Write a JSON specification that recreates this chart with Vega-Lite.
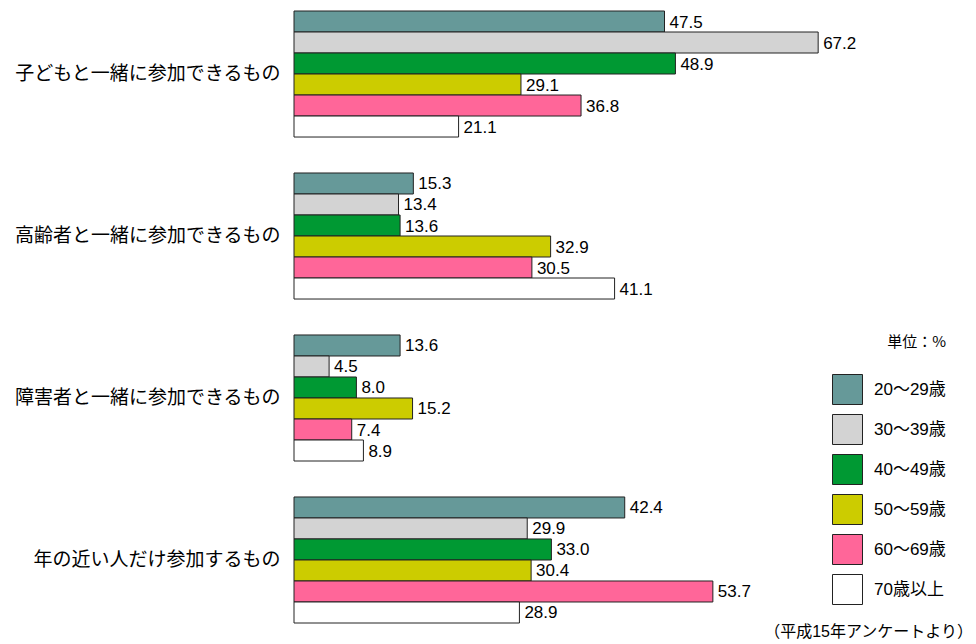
{
  "$schema": "https://vega.github.io/schema/vega-lite/v6.json",
  "width": 624,
  "height": 612,
  "autosize": {"type": "none"},
  "padding": {"left": 294, "top": 11, "right": 58, "bottom": 21},
  "background": "white",
  "config": {"view": {"stroke": null}},
  "title": {
    "text": "（平成15年アンケートより）",
    "orient": "bottom",
    "anchor": "end",
    "fontSize": 16,
    "fontWeight": "normal",
    "font": "Liberation Sans, Noto Sans CJK JP",
    "color": "#000",
    "offset": 0,
    "dx": 27
  },
  "data": {
    "values": [
      {"item": "子どもと一緒に参加できるもの", "age": "20～29歳", "value": 47.5},
      {"item": "子どもと一緒に参加できるもの", "age": "30～39歳", "value": 67.2},
      {"item": "子どもと一緒に参加できるもの", "age": "40～49歳", "value": 48.9},
      {"item": "子どもと一緒に参加できるもの", "age": "50～59歳", "value": 29.1},
      {"item": "子どもと一緒に参加できるもの", "age": "60～69歳", "value": 36.8},
      {"item": "子どもと一緒に参加できるもの", "age": "70歳以上", "value": 21.1},
      {"item": "高齢者と一緒に参加できるもの", "age": "20～29歳", "value": 15.3},
      {"item": "高齢者と一緒に参加できるもの", "age": "30～39歳", "value": 13.4},
      {"item": "高齢者と一緒に参加できるもの", "age": "40～49歳", "value": 13.6},
      {"item": "高齢者と一緒に参加できるもの", "age": "50～59歳", "value": 32.9},
      {"item": "高齢者と一緒に参加できるもの", "age": "60～69歳", "value": 30.5},
      {"item": "高齢者と一緒に参加できるもの", "age": "70歳以上", "value": 41.1},
      {"item": "障害者と一緒に参加できるもの", "age": "20～29歳", "value": 13.6},
      {"item": "障害者と一緒に参加できるもの", "age": "30～39歳", "value": 4.5},
      {"item": "障害者と一緒に参加できるもの", "age": "40～49歳", "value": 8.0},
      {"item": "障害者と一緒に参加できるもの", "age": "50～59歳", "value": 15.2},
      {"item": "障害者と一緒に参加できるもの", "age": "60～69歳", "value": 7.4},
      {"item": "障害者と一緒に参加できるもの", "age": "70歳以上", "value": 8.9},
      {"item": "年の近い人だけ参加するもの", "age": "20～29歳", "value": 42.4},
      {"item": "年の近い人だけ参加するもの", "age": "30～39歳", "value": 29.9},
      {"item": "年の近い人だけ参加するもの", "age": "40～49歳", "value": 33.0},
      {"item": "年の近い人だけ参加するもの", "age": "50～59歳", "value": 30.4},
      {"item": "年の近い人だけ参加するもの", "age": "60～69歳", "value": 53.7},
      {"item": "年の近い人だけ参加するもの", "age": "70歳以上", "value": 28.9}
    ]
  },
  "encoding": {
    "y": {
      "field": "item",
      "type": "nominal",
      "sort": null,
      "scale": {"paddingInner": 0.222, "paddingOuter": 0},
      "axis": {
        "title": null,
        "domain": false,
        "ticks": false,
        "labelPadding": 14,
        "labelFontSize": 19,
        "labelFont": "Noto Sans CJK JP",
        "labelColor": "#000",
        "labelLimit": 400
      }
    },
    "yOffset": {
      "field": "age",
      "type": "nominal",
      "sort": ["20～29歳", "30～39歳", "40～49歳", "50～59歳", "60～69歳", "70歳以上"],
      "scale": {"paddingInner": 0, "paddingOuter": 0}
    },
    "x": {
      "field": "value",
      "type": "quantitative",
      "scale": {"domain": [0, 80], "nice": false},
      "axis": null
    }
  },
  "layer": [
    {
      "mark": {"type": "bar", "stroke": "#222", "strokeWidth": 1},
      "encoding": {
        "fill": {
          "field": "age",
          "type": "nominal",
          "scale": {
            "domain": ["20～29歳", "30～39歳", "40～49歳", "50～59歳", "60～69歳", "70歳以上"],
            "range": ["#669999", "#d3d3d3", "#009933", "#cccc00", "#ff6699", "#ffffff"]
          },
          "legend": {
            "orient": "none",
            "legendX": 538,
            "legendY": 324,
            "padding": 0,
            "title": "単位：%",
            "titleFont": "Noto Sans CJK JP",
            "titleFontSize": 15,
            "titleFontWeight": "normal",
            "titleColor": "#000",
            "titlePadding": 24,
            "titleAnchor": "end",
            "symbolType": "square",
            "symbolSize": 900,
            "symbolStrokeColor": "#222",
            "symbolStrokeWidth": 1,
            "symbolOpacity": 1,
            "rowPadding": 5,
            "labelOffset": 11,
            "labelFont": "Liberation Sans, Noto Sans CJK JP",
            "labelFontSize": 17,
            "labelColor": "#000"
          }
        }
      }
    },
    {
      "mark": {
        "type": "text",
        "align": "left",
        "baseline": "middle",
        "dx": 5,
        "dy": 1,
        "font": "Liberation Sans",
        "fontSize": 17,
        "color": "#000"
      },
      "encoding": {
        "text": {"field": "value", "type": "quantitative", "format": ".1f"}
      }
    }
  ]
}
